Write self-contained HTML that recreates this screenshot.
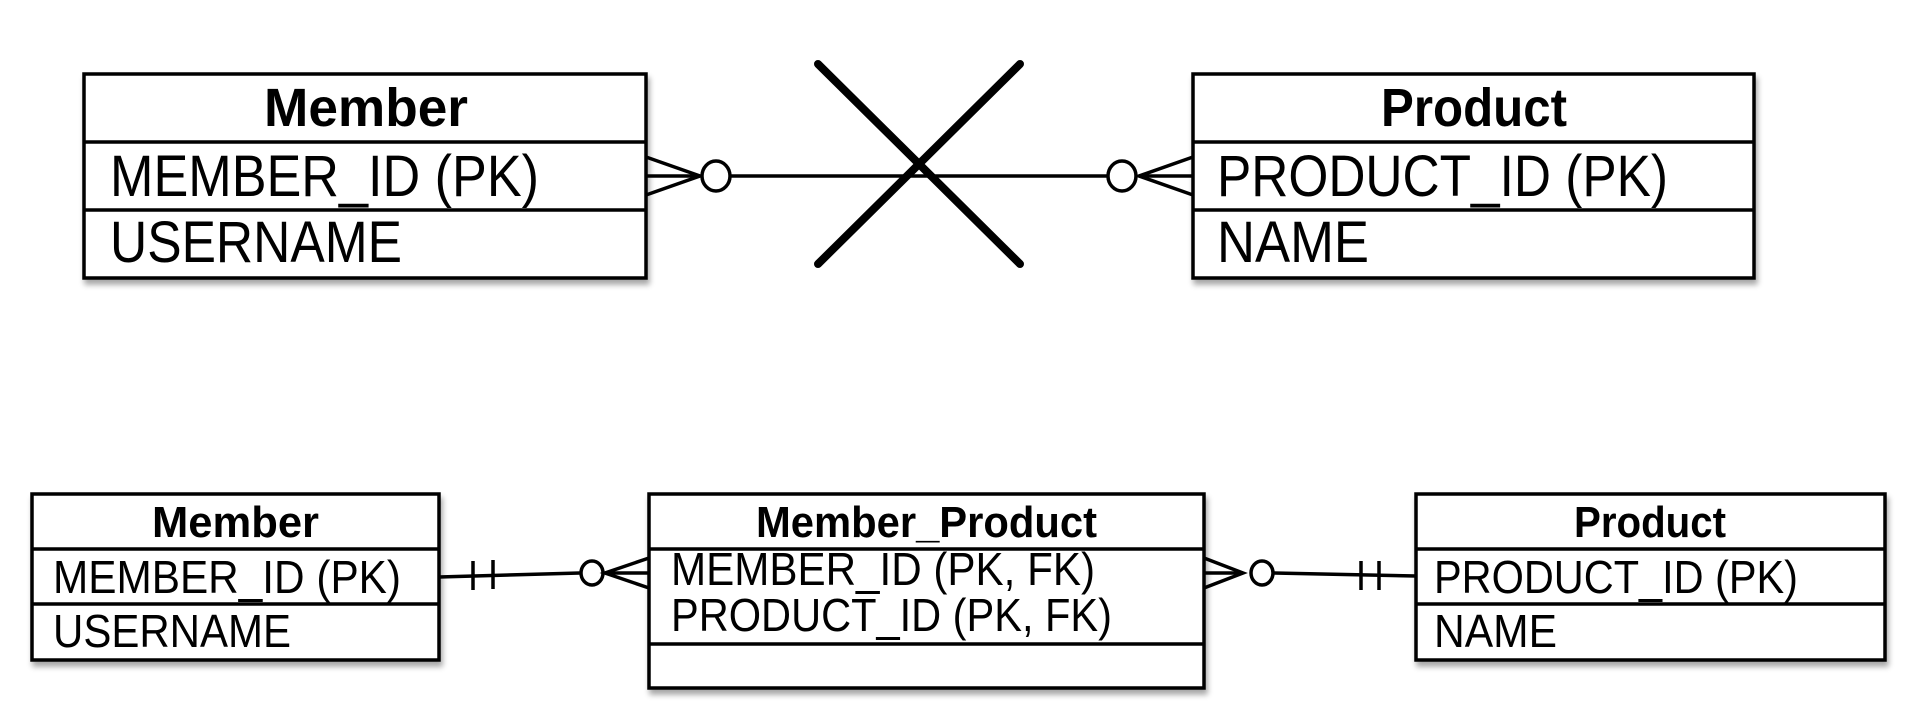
<!DOCTYPE html>
<html><head><meta charset="utf-8"><style>
html,body{margin:0;padding:0;background:#fff;}
svg{display:block;}
text{font-family:"Liberation Sans",sans-serif;fill:#000;}
.h{font-weight:bold;}
.f{font-weight:normal;}
</style></head><body>
<svg width="1922" height="712" viewBox="0 0 1922 712" xmlns="http://www.w3.org/2000/svg">
<defs>
<filter id="sh" x="-5%" y="-5%" width="115%" height="130%">
<feGaussianBlur in="SourceAlpha" stdDeviation="3"/>
<feOffset dx="2" dy="5"/>
<feComponentTransfer><feFuncA type="linear" slope="0.35"/></feComponentTransfer>
<feMerge><feMergeNode/><feMergeNode in="SourceGraphic"/></feMerge>
</filter>
</defs>
<g fill="#fff" stroke="#000" stroke-width="3.5" filter="url(#sh)">
<rect x="84" y="74" width="562" height="204"/>
<rect x="1193" y="74" width="561" height="204"/>
<rect x="32" y="494" width="407" height="166"/>
<rect x="649" y="494" width="555" height="194"/>
<rect x="1416" y="494" width="469" height="166"/>
</g>
<g stroke="#000" stroke-width="3.5" fill="none">
<line x1="84" y1="142" x2="646" y2="142"/>
<line x1="84" y1="210" x2="646" y2="210"/>
<line x1="1193" y1="142" x2="1754" y2="142"/>
<line x1="1193" y1="210" x2="1754" y2="210"/>
<line x1="32" y1="549" x2="439" y2="549"/>
<line x1="32" y1="604" x2="439" y2="604"/>
<line x1="649" y1="549" x2="1204" y2="549"/>
<line x1="649" y1="644" x2="1204" y2="644"/>
<line x1="1416" y1="549" x2="1885" y2="549"/>
<line x1="1416" y1="604" x2="1885" y2="604"/>
</g>
<!-- top connector -->
<g stroke="#000" stroke-width="3.5" fill="none">
<line x1="731" y1="176" x2="1107" y2="176"/>
<polyline points="646,157 700,176 646,195"/>
<line x1="646" y1="176" x2="700" y2="176"/>
<ellipse cx="716" cy="176" rx="14" ry="15" fill="#fff"/>
<polyline points="1193,157 1139,176 1193,195"/>
<line x1="1139" y1="176" x2="1193" y2="176"/>
<ellipse cx="1122" cy="176" rx="14" ry="15" fill="#fff"/>
</g>
<g stroke="#000" stroke-width="8" stroke-linecap="round">
<line x1="818" y1="64" x2="1020" y2="264"/>
<line x1="1020" y1="64" x2="818" y2="264"/>
</g>
<!-- bottom connectors -->
<g stroke="#000" stroke-width="3.5" fill="none">
<line x1="439" y1="577" x2="580" y2="573"/>
<line x1="473" y1="561" x2="473" y2="590"/>
<line x1="493" y1="560" x2="493" y2="589"/>
<ellipse cx="592" cy="573" rx="11" ry="12" fill="#fff"/>
<polyline points="649,558 605,573 649,588"/>
<line x1="605" y1="573" x2="649" y2="573"/>
<line x1="1274" y1="573" x2="1416" y2="576"/>
<line x1="1361" y1="561" x2="1361" y2="590"/>
<line x1="1379" y1="561" x2="1379" y2="590"/>
<ellipse cx="1262" cy="573" rx="11" ry="12" fill="#fff"/>
<polyline points="1204,558 1243,573 1204,588"/>
<line x1="1204" y1="573" x2="1243" y2="573"/>
</g>
<!-- text -->
<text class="h" x="264" y="126" font-size="54" textLength="204" lengthAdjust="spacingAndGlyphs">Member</text>
<text class="f" x="110" y="196" font-size="58" textLength="429" lengthAdjust="spacingAndGlyphs">MEMBER_ID (PK)</text>
<text class="f" x="110" y="262" font-size="58" textLength="292" lengthAdjust="spacingAndGlyphs">USERNAME</text>
<text class="h" x="1381" y="126" font-size="54" textLength="186" lengthAdjust="spacingAndGlyphs">Product</text>
<text class="f" x="1217" y="196" font-size="58" textLength="451" lengthAdjust="spacingAndGlyphs">PRODUCT_ID (PK)</text>
<text class="f" x="1217" y="262" font-size="58" textLength="152" lengthAdjust="spacingAndGlyphs">NAME</text>

<text class="h" x="152" y="537" font-size="44" textLength="167" lengthAdjust="spacingAndGlyphs">Member</text>
<text class="f" x="53" y="593" font-size="46" textLength="348" lengthAdjust="spacingAndGlyphs">MEMBER_ID (PK)</text>
<text class="f" x="53" y="647" font-size="46" textLength="238" lengthAdjust="spacingAndGlyphs">USERNAME</text>
<text class="h" x="756" y="537" font-size="44" textLength="341" lengthAdjust="spacingAndGlyphs">Member_Product</text>
<text class="f" x="671" y="585" font-size="46" textLength="424" lengthAdjust="spacingAndGlyphs">MEMBER_ID (PK, FK)</text>
<text class="f" x="671" y="631" font-size="46" textLength="441" lengthAdjust="spacingAndGlyphs">PRODUCT_ID (PK, FK)</text>
<text class="h" x="1574" y="537" font-size="44" textLength="152" lengthAdjust="spacingAndGlyphs">Product</text>
<text class="f" x="1434" y="593" font-size="46" textLength="364" lengthAdjust="spacingAndGlyphs">PRODUCT_ID (PK)</text>
<text class="f" x="1434" y="647" font-size="46" textLength="123" lengthAdjust="spacingAndGlyphs">NAME</text>
</svg>
</body></html>
